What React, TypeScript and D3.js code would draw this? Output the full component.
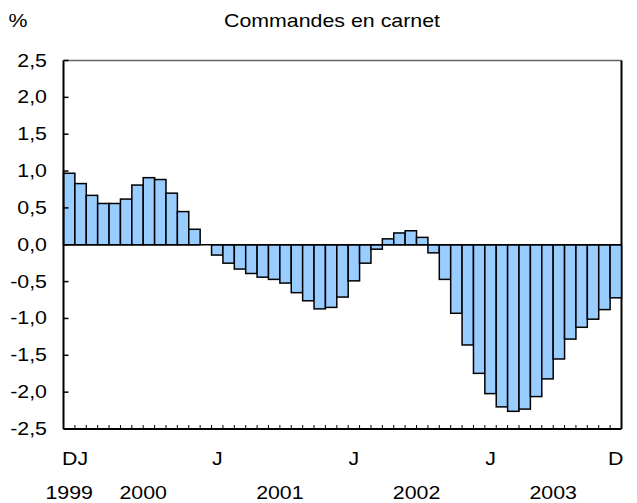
import React from "react";
import * as d3 from "d3";

// Commandes en carnet, monthly, Dec 1999 - Dec 2003 (%)
const values = [
  0.97,
  0.83, 0.67, 0.56, 0.56, 0.62, 0.81, 0.91, 0.885, 0.70, 0.45, 0.21, 0.0,
  -0.14, -0.25, -0.33, -0.39, -0.44, -0.47, -0.52, -0.65, -0.76, -0.87, -0.85, -0.71,
  -0.49, -0.25, -0.06, 0.08, 0.16, 0.19, 0.10, -0.11, -0.47, -0.93, -1.36, -1.745,
  -2.02, -2.20, -2.26, -2.23, -2.06, -1.82, -1.55, -1.28, -1.12, -1.01, -0.88, -0.72,
];
const yTicks = [2.5, 2.0, 1.5, 1.0, 0.5, 0.0, -0.5, -1.0, -1.5, -2.0, -2.5];
// "DJ" = Dec 1999 + Jan 2000, written as one label starting at the first bar
const monthLabels = [
  { i: 0, t: "DJ", anchor: "start" },
  { i: 13, t: "J", anchor: "middle" },
  { i: 25, t: "J", anchor: "middle" },
  { i: 37, t: "J", anchor: "middle" },
  { i: 48, t: "D", anchor: "middle" },
];
const yearLabels = [
  { t: "1999", from: 0, to: 0 },
  { t: "2000", from: 1, to: 12 },
  { t: "2001", from: 13, to: 24 },
  { t: "2002", from: 25, to: 36 },
  { t: "2003", from: 37, to: 48 },
];

const W = 637, H = 503;
const left = 63.5, right = 621.5, top = 60.5, bottom = 429;
const FONT = "'Liberation Sans', Arial, sans-serif";
const SX = 1.22; // text in the original is stretched horizontally

function T({ x, y, anchor = "middle", children }: any) {
  return (
    <text
      transform={`translate(${x},${y}) scale(${SX},1)`}
      textAnchor={anchor}
      fontFamily={FONT}
      fontSize={17.5}
      fill="#000"
    >
      {children}
    </text>
  );
}

export default function App() {
  const idx = values.map((_, i) => i);
  const x = d3.scaleBand<number>().domain(idx).range([left, right]).padding(0);
  const y = d3.scaleLinear().domain([-2.5, 2.5]).range([bottom, top]);
  const bw = x.bandwidth();

  return (
    <svg width={W} height={H} style={{ position: "absolute", left: 0, top: 0 }}>
      <rect width={W} height={H} fill="#fff" />
      <T x={18} y={27}>%</T>
      <T x={332} y={27}>Commandes en carnet</T>

      {/* frame */}
      <line x1={left} x2={right} y1={top} y2={top} stroke="#666" strokeWidth={1.5} />
      <line x1={right} x2={right} y1={top} y2={bottom} stroke="#000" strokeWidth={2} />

      {/* bars */}
      {values.map((v, i) => (
        <rect
          key={i}
          x={x(i)}
          width={bw}
          y={y(Math.max(0, v))}
          height={Math.abs(y(v) - y(0))}
          fill="#99ccff"
          stroke="#000"
          strokeWidth={1.5}
        />
      ))}

      {/* zero line */}
      <line x1={left} x2={right} y1={y(0)} y2={y(0)} stroke="#000" strokeWidth={1.5} />

      {/* y axis */}
      <line x1={left} x2={left} y1={top} y2={bottom} stroke="#000" strokeWidth={2} />
      {yTicks.map((t) => (
        <g key={t}>
          <line x1={left} x2={left + 5} y1={y(t)} y2={y(t)} stroke="#000" strokeWidth={1.5} />
          <T x={47} y={y(t) + 6} anchor="end">
            {t.toFixed(1).replace(".", ",")}
          </T>
        </g>
      ))}

      {/* x axis */}
      <line x1={left} x2={right} y1={bottom} y2={bottom} stroke="#000" strokeWidth={2} />
      {idx.slice(1).map((i) => (
        <line key={i} x1={x(i)} x2={x(i)} y1={bottom} y2={bottom - 4} stroke="#000" strokeWidth={1} />
      ))}
      {monthLabels.map((m) => (
        <T
          key={m.i}
          x={m.anchor === "start" ? (x(m.i) as number) - 1.5 : (x(m.i) as number) + bw / 2}
          y={465}
          anchor={m.anchor}
        >
          {m.t}
        </T>
      ))}
      {yearLabels.map((yl) => (
        <T key={yl.t} x={((x(yl.from) as number) + (x(yl.to) as number) + bw) / 2} y={499}>
          {yl.t}
        </T>
      ))}
    </svg>
  );
}
